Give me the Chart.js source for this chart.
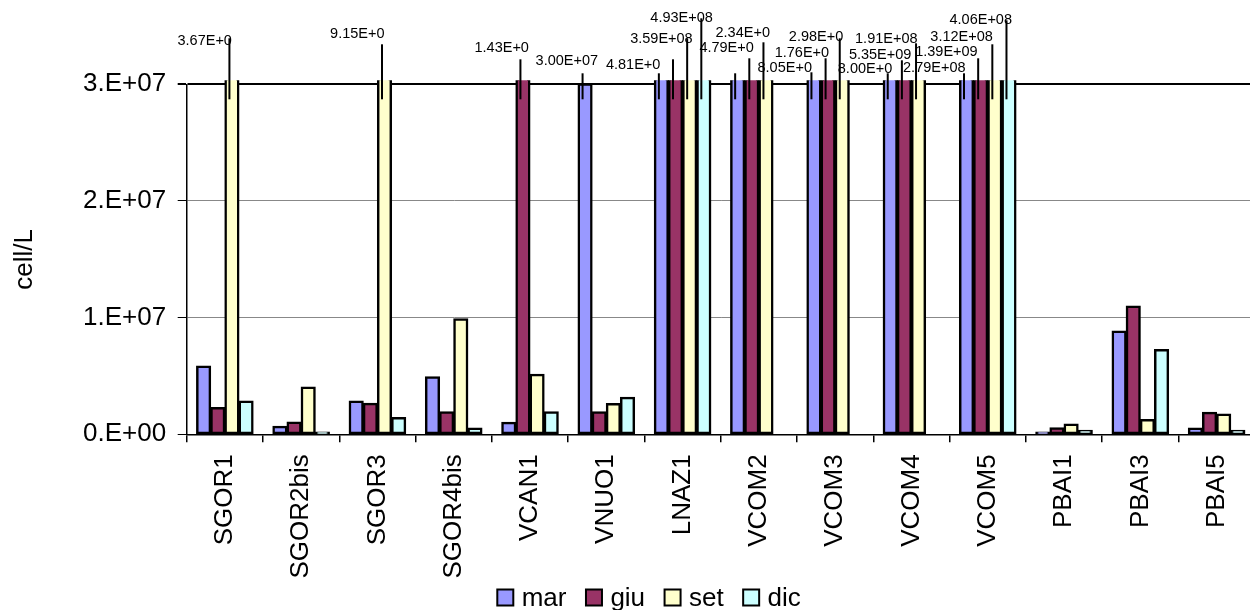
<!DOCTYPE html>
<html><head><meta charset="utf-8">
<script src="https://cdn.jsdelivr.net/npm/chart.js@4/dist/chart.umd.min.js"></script>
<style>
html,body{margin:0;padding:0;background:#fff;overflow:hidden;}
#wrap{width:1250px;height:610px;overflow:hidden;position:relative;background:#fff;}
canvas{display:block;}
</style></head><body>
<div id="wrap"><canvas id="c" width="1260" height="610" style="width:1260px;height:610px"></canvas></div>
<script>
// ---- data ----
const categories = ['SGOR1','SGOR2bis','SGOR3','SGOR4bis','VCAN1','VNUO1','LNAZ1','VCOM2','VCOM3','VCOM4','VCOM5','PBAI1','PBAI3','PBAI5'];
const seriesNames = ['mar','giu','set','dic'];
const mar = [5.85e6, 0.69e6, 2.85e6, 4.94e6, 1.03e6, 3.004e7, 4.81e7, 6.5e7, 8.05e7, 8.00e7, 2.79e8, 0.20e6, 8.85e6, 0.54e6];
const giu = [2.29e6, 1.05e6, 2.66e6, 1.94e6, 1.43e8, 1.94e6, 2.5e8, 4.79e7, 1.76e8, 5.35e9, 1.39e9, 0.57e6, 11.0e6, 1.89e6];
const set = [3.67e7, 4.05e6, 9.15e7, 9.91e6, 5.14e6, 2.63e6, 3.59e8, 2.34e8, 2.98e8, 1.91e8, 3.12e8, 0.88e6, 1.26e6, 1.74e6];
const dic = [2.85e6, 0.20e6, 1.43e6, 0.54e6, 1.94e6, 3.17e6, 4.93e8, null, null, null, 4.06e8, 0.34e6, 7.26e6, 0.34e6];
const yTicks = [0, 1e7, 2e7, 3e7];
const yTitle = 'cell/L';

// ---- styles / layout ----
const seriesData = [mar, giu, set, dic];
const seriesColors = ['#9999FF', '#993366', '#FFFFCC', '#CCFFFF'];
const FONT = "'Liberation Sans', Arial, Helvetica, sans-serif";
const Y_MAX = yTicks[yTicks.length - 1];
// placement of labels for bars running off the scale:
// [category, series, leader-line lift (px above top line), text lift, text right offset, flag]
const noteLayout = [
  ['SGOR1','set',46,43,0,'cut'],
  ['SGOR3','set',40,50,0,'cut'],
  ['VCAN1','giu',25,36,6,'cut'],
  ['VNUO1','mar',11,23,13,''],
  ['LNAZ1','mar',11,19,-1,'cut'],
  ['LNAZ1','giu',25,0,0,'hide'],
  ['LNAZ1','set',46,45,3,''],
  ['LNAZ1','dic',66,66,9,''],
  ['VCOM2','mar',11,0,0,'hide'],
  ['VCOM2','giu',26,36,2,'cut'],
  ['VCOM2','set',42,51,4,'cut'],
  ['VCOM3','mar',12,16,-2,'cut'],
  ['VCOM3','giu',26,31,1,'cut'],
  ['VCOM3','set',46,47,1,'cut'],
  ['VCOM4','mar',11,15,2,'cut'],
  ['VCOM4','giu',24,29,7,''],
  ['VCOM4','set',41,45,-1,''],
  ['VCOM5','mar',11,16,-1,''],
  ['VCOM5','giu',26,32,-3,''],
  ['VCOM5','set',40,47,-2,''],
  ['VCOM5','dic',64,64,3,'']
];

function expParts(v, digits) {
  const s = v.toExponential(digits);
  const [m, e] = s.split('e');
  return [m, e[0], e.slice(1).padStart(2, '0')];
}
function fmtTick(v) {
  const [m, sg, ex] = expParts(v, 0);
  return m + '.E' + sg + ex;
}
function fmtLabel(v) {
  const [m, sg, ex] = expParts(v, 2);
  return m + 'E' + sg + ex;
}

const notesPlugin = {
  id: 'notes',
  afterDatasetsDraw(chart) {
    const ctx = chart.ctx;
    const y = chart.scales.y;
    const top = y.getPixelForValue(Y_MAX);
    ctx.save();
    ctx.font = '14.5px ' + FONT;
    ctx.fillStyle = '#000';
    ctx.textAlign = 'right';
    ctx.textBaseline = 'middle';
    const lines = [];
    noteLayout.forEach(n => {
      const si = seriesNames.indexOf(n[1]);
      const ci = categories.indexOf(n[0]);
      const v = seriesData[si][ci];
      if (v == null || v <= Y_MAX) return;
      const el = chart.getDatasetMeta(si).data[ci];
      const lx = el.x - 2.5;
      lines.push([lx, top - n[2]]);
      if (n[5] !== 'hide') {
        let t = fmtLabel(v);
        if (n[5] === 'cut') t = t.slice(0, -1);
        ctx.fillText(t, el.x + n[4], top - n[3]);
      }
    });
    ctx.strokeStyle = '#000';
    ctx.lineWidth = 2;
    lines.forEach(([lx, ly]) => {
      ctx.beginPath();
      ctx.moveTo(lx, ly);
      ctx.lineTo(lx, top + 15);
      ctx.stroke();
    });
    ctx.restore();
  }
};

const legendPlugin = {
  id: 'legendBottom',
  afterDraw(chart) {
    const ctx = chart.ctx;
    ctx.save();
    ctx.font = '26px ' + FONT;
    ctx.textAlign = 'left';
    ctx.textBaseline = 'alphabetic';
    let x = 497.3;
    const by = 589.5, bs = 16;
    seriesNames.forEach((n, i) => {
      ctx.fillStyle = seriesColors[i];
      ctx.fillRect(x, by, bs, bs);
      ctx.strokeStyle = '#000';
      ctx.lineWidth = 2;
      ctx.strokeRect(x, by, bs, bs);
      x += bs + 8.4;
      ctx.fillStyle = '#000';
      ctx.fillText(n, x, 605.5);
      x += ctx.measureText(n).width + 19.5;
    });
    ctx.restore();
  }
};

new Chart(document.getElementById('c'), {
  type: 'bar',
  data: {
    labels: categories,
    datasets: seriesNames.map((n, i) => ({
      label: n,
      data: seriesData[i],
      backgroundColor: seriesColors[i],
      borderColor: '#000',
      borderWidth: 2.5,
      borderSkipped: false,
      inflateAmount: 0.5,
      categoryPercentage: 0.742,
      barPercentage: 1,
      clip: {left: false, right: false, bottom: false, top: 4}
    }))
  },
  options: {
    responsive: false,
    animation: false,
    devicePixelRatio: 1,
    layout: {padding: {top: 84.3, left: 0, right: 5, bottom: 0}},
    plugins: {legend: {display: false}, tooltip: {enabled: false}},
    scales: {
      x: {
        grid: {offset: true, drawOnChartArea: false, drawTicks: true, tickLength: 8, color: '#000', tickColor: '#000', lineWidth: 1.5},
        border: {display: true, color: '#000', width: 1.5},
        ticks: {minRotation: 90, maxRotation: 90, autoSkip: false, padding: 12, color: '#000', font: {family: FONT, size: 26}},
        afterFit: s => { s.height = 610 - 434.3; }
      },
      y: {
        min: 0, max: Y_MAX,
        afterBuildTicks: s => { s.ticks = yTicks.map(v => ({value: v})); },
        ticks: {callback: v => fmtTick(v), padding: 11.5, color: '#000', font: {family: FONT, size: 26}},
        grid: {
          color: c => (c.tick && (c.tick.value === Y_MAX || c.tick.value === 0)) ? '#000' : '#888',
          lineWidth: c => (c.tick && c.tick.value === Y_MAX) ? 2 : 1,
          tickLength: 9, tickColor: '#000'
        },
        border: {display: true, color: '#000', width: 1.5},
        title: {display: true, text: yTitle, color: '#000', font: {family: FONT, size: 26}, padding: {top: 9, bottom: 0}},
        afterFit: s => { s.width = 186.7; }
      }
    }
  },
  plugins: [notesPlugin, legendPlugin]
});
</script>
</body></html>
